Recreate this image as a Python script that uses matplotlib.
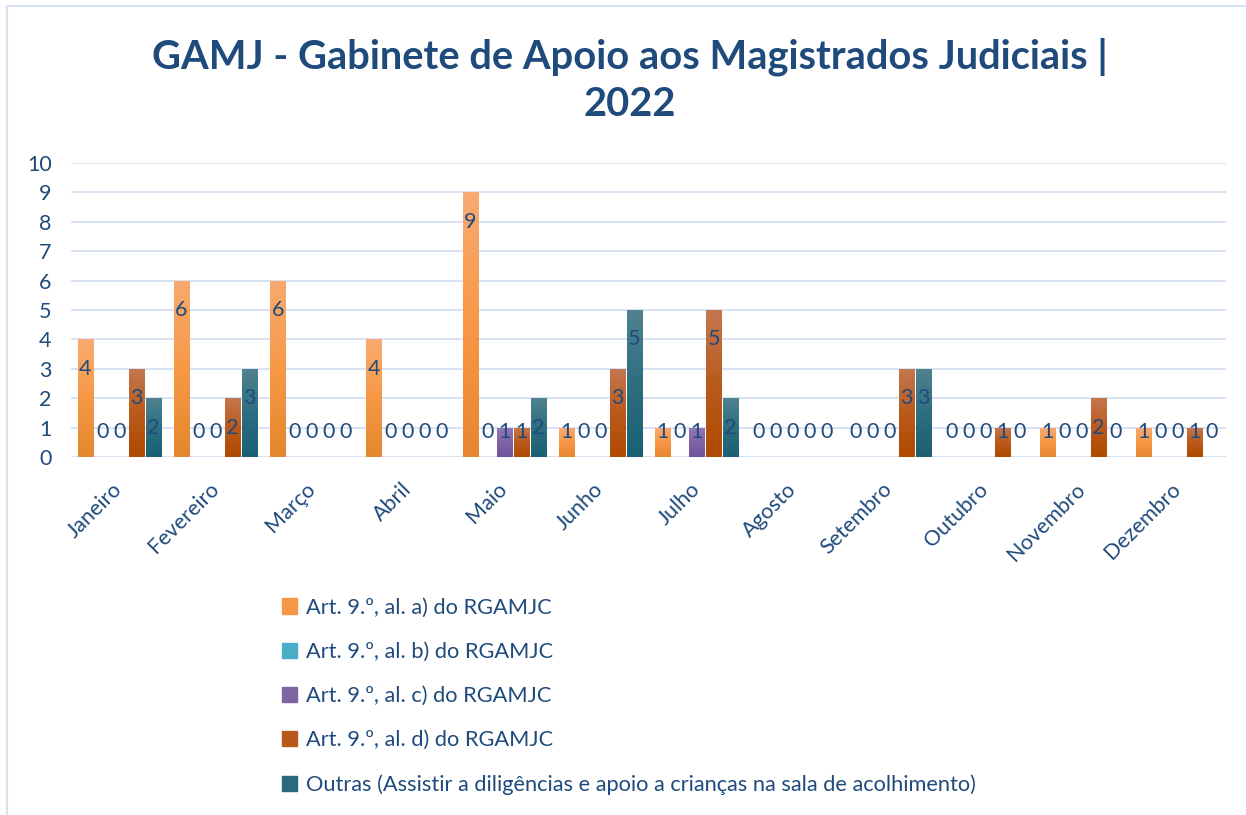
import matplotlib.pyplot as plt
import numpy as np
from matplotlib.colors import LinearSegmentedColormap
from matplotlib.lines import Line2D

plt.rcParams['font.family'] = ['Lato', 'DejaVu Sans']

meses = ['Janeiro', 'Fevereiro', 'Março', 'Abril', 'Maio', 'Junho', 'Julho',
         'Agosto', 'Setembro', 'Outubro', 'Novembro', 'Dezembro']

series_nomes = [
    'Art. 9.º, al. a) do RGAMJC',
    'Art. 9.º, al. b) do RGAMJC',
    'Art. 9.º, al. c) do RGAMJC',
    'Art. 9.º, al. d) do RGAMJC',
    'Outras (Assistir a diligências e apoio a crianças na sala de acolhimento)',
]

al_a = [4, 6, 6, 4, 9, 1, 1, 0, 0, 0, 1, 1]
al_b = [0, 0, 0, 0, 0, 0, 0, 0, 0, 0, 0, 0]
al_c = [0, 0, 0, 0, 1, 0, 1, 0, 0, 0, 0, 0]
al_d = [3, 2, 0, 0, 1, 3, 5, 0, 3, 1, 2, 1]
outras = [2, 3, 0, 0, 2, 5, 2, 0, 3, 0, 0, 0]

valores = [al_a, al_b, al_c, al_d, outras]

# gradient colours (top, middle, bottom) like the Excel fill
gradientes = [
    ['#F9AA70', '#F89846', '#E6862F'],
    ['#6EC2D8', '#4BACC6', '#2F9DB9'],
    ['#9279B3', '#8064A2', '#6E519C'],
    ['#C4774F', '#BA5A1C', '#B04A00'],
    ['#50828F', '#2E6E80', '#1A6074'],
]
cores_legenda = ['#F79646', '#4BACC6', '#8064A2', '#B9581A', '#2A6A7C']

azul = '#1F4A7C'
grelha = '#D7E2F2'

fig = plt.figure(figsize=(12.46, 8.15), dpi=100)
ax = fig.add_axes([71 / 1246, 1 - 457 / 815, (1226 - 71) / 1246, (457 - 163) / 815])

x = np.arange(len(meses))
passo = 0.1766
largura = 0.156

ax.set_xlim(-0.5, len(meses) - 0.5)
ax.set_ylim(0, 10)
ax.set_yticks(range(0, 11))
for yv in range(0, 11):
    ax.axhline(yv, color=grelha, lw=1.4, zorder=0)

for j, (vals, grad) in enumerate(zip(valores, gradientes)):
    cmap = LinearSegmentedColormap.from_list('g%d' % j, grad[::-1])
    pos = x + (j - 2) * passo
    barras = ax.bar(pos, vals, width=largura, color=grad[1], zorder=2)
    for b in barras:
        h = b.get_height()
        if h <= 0:
            continue
        x0 = b.get_x()
        img = ax.imshow(np.linspace(0, 1, 100).reshape(-1, 1)[::-1],
                        extent=[x0, x0 + b.get_width(), 0, h],
                        cmap=cmap, aspect='auto', zorder=3, origin='upper')
        img.set_clip_path(b)
    for px, v in zip(pos, vals):
        ax.text(px, max(v - 1, 0.85), str(v), ha='center', va='center',
                color=azul, fontsize=15.5, zorder=5)

ax.set_xlim(-0.5, len(meses) - 0.5)
ax.set_ylim(0, 10)

for s in ax.spines.values():
    s.set_visible(False)
ax.tick_params(axis='both', length=0, colors=azul, labelsize=15.5)
ax.tick_params(axis='y', pad=14)
ax.set_xticks(x)
ax.set_xticklabels(meses, rotation=45, ha='right', va='center',
                   rotation_mode='anchor', color=azul, fontsize=15.5)
ax.tick_params(axis='x', pad=21)
for lab in ax.get_yticklabels():
    lab.set_color(azul)

fig.text(630 / 1246, 1 - 57 / 815, 'GAMJ - Gabinete de Apoio aos Magistrados Judiciais |',
         ha='center', va='center', fontsize=28.7, fontweight='bold', color=azul)
fig.text(630 / 1246, 1 - 105 / 815, '2022',
         ha='center', va='center', fontsize=28.7, fontweight='bold', color=azul)

handles = [plt.Rectangle((0, 0), 1, 1, color=c) for c in cores_legenda]
fig.legend(handles, series_nomes, loc='upper left',
           bbox_to_anchor=(273 / 1246, 1 - 589 / 815), frameon=False,
           fontsize=15.7, labelcolor=azul, handlelength=0.72, handleheight=0.72,
           handletextpad=0.4, labelspacing=1.11, borderaxespad=0)

# chart border (left and top visible)
fig.add_artist(Line2D([7 / 1246, 7 / 1246], [0, 1 - 6 / 815],
                      transform=fig.transFigure, color=grelha, lw=1.5))
fig.add_artist(Line2D([7 / 1246, 1], [1 - 6 / 815, 1 - 6 / 815],
                      transform=fig.transFigure, color=grelha, lw=1.5))

fig.savefig('out.png', dpi=100, facecolor='white')
